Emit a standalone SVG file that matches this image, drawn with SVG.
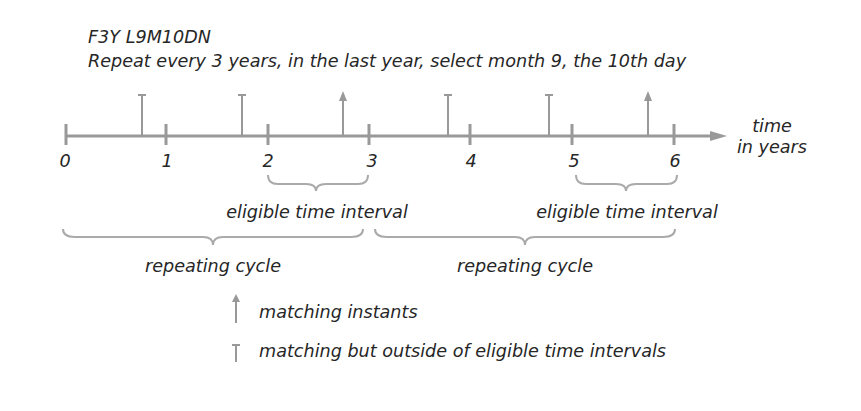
<svg xmlns="http://www.w3.org/2000/svg" width="861" height="411" viewBox="0 0 861 411">
<style>
text{font-family:"DejaVu Sans",Verdana,sans-serif;font-style:italic;font-size:17.6px;fill:#262626}
.m{text-anchor:middle}
.ax{stroke:#999;stroke-width:3;fill:none}
.mk{stroke:#999;stroke-width:2;fill:none}
.br{stroke:#aaa;stroke-width:2;fill:none}
.ah{fill:#999}
</style>
<rect width="861" height="411" fill="#fff"/>
<g id="title">
<text x="88" y="43">F3Y L9M10DN</text>
<text x="88" y="67">Repeat every 3 years, in the last year, select month 9, the 10th day</text>
</g>
<g id="axis">
<line class="ax" x1="65" y1="136" x2="712" y2="136"/>
<polygon class="ah" points="710,131 727,136 710,141"/>
<g class="ax">
<line x1="66" y1="124" x2="66" y2="145"/>
<line x1="166" y1="124" x2="166" y2="145"/>
<line x1="268" y1="124" x2="268" y2="145"/>
<line x1="369" y1="124" x2="369" y2="145"/>
<line x1="470" y1="124" x2="470" y2="145"/>
<line x1="572" y1="124" x2="572" y2="145"/>
<line x1="674" y1="124" x2="674" y2="145"/>
</g>
<text class="m" x="65" y="167">0</text>
<text class="m" x="167" y="167">1</text>
<text class="m" x="268" y="167">2</text>
<text class="m" x="372" y="167">3</text>
<text class="m" x="471" y="167">4</text>
<text class="m" x="574" y="167">5</text>
<text class="m" x="675" y="167">6</text>
<text class="m" x="772" y="132">time</text>
<text class="m" x="772" y="153">in years</text>
</g>
<g id="markers">
<path class="mk" d="M142,136V95M138,95H146M242,136V95M238,95H246M448,136V95M444,95H452M549,136V95M545,95H553"/>
<path class="mk" d="M343,136V98M648,136V98"/>
<polygon class="ah" points="343,91 339,101 347,101"/>
<polygon class="ah" points="648,91 644,101 652,101"/>
</g>
<g id="braces">
<path class="br" d="M268,175Q268,184 278,184L306,184Q316,184 316,191Q316,184 326,184L358,184Q368,184 368,175"/>
<path class="br" d="M576,175Q576,184 586,184L616,184Q626,184 626,191Q626,184 636,184L667,184Q677,184 677,175"/>
<path class="br" d="M63,229Q63,237 75,237L203,237Q213,237 213,245Q213,237 223,237L351,237Q363,237 363,229"/>
<path class="br" d="M375,229Q375,237 387,237L515,237Q525,237 525,245Q525,237 535,237L663,237Q675,237 675,229"/>
<text class="m" x="317" y="218">eligible time interval</text>
<text class="m" x="627" y="218">eligible time interval</text>
<text class="m" x="213" y="272">repeating cycle</text>
<text class="m" x="525" y="272">repeating cycle</text>
</g>
<g id="legend">
<line class="mk" x1="236" y1="323" x2="236" y2="300"/>
<polygon class="ah" points="236,294 232,302 240,302"/>
<path class="mk" d="M236,362V345M232,345H240"/>
<text x="259" y="318">matching instants</text>
<text x="259" y="357">matching but outside of eligible time intervals</text>
</g>
</svg>
